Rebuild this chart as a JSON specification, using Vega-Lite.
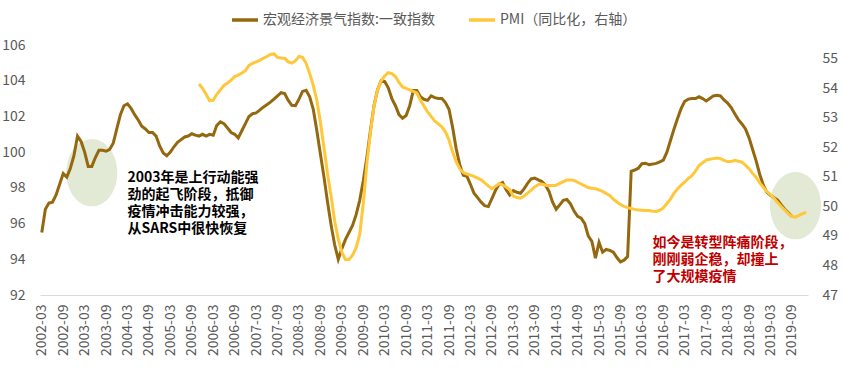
{
  "$schema": "https://vega.github.io/schema/vega-lite/v6.json",
  "width": 768,
  "height": 250,
  "autosize": {"type": "none"},
  "padding": {"left": 40, "top": 45, "right": 35, "bottom": 75},
  "background": "white",
  "config": {
    "font": "Noto Sans CJK SC",
    "view": {"stroke": null},
    "axis": {"labelColor": "#595959", "labelFontSize": 14, "ticks": false, "grid": false, "title": null}
  },
  "datasets": {
    "ci": [
      {"d":"2002-03","v":95.5},{"d":"2002-04","v":96.8},{"d":"2002-05","v":97.15},{"d":"2002-06","v":97.2},{"d":"2002-07","v":97.6},{"d":"2002-08","v":98.2},{"d":"2002-09","v":98.8},{"d":"2002-10","v":98.6},{"d":"2002-11","v":99.1},{"d":"2002-12","v":99.8},
      {"d":"2003-01","v":100.9},{"d":"2003-02","v":100.6},{"d":"2003-03","v":100.0},{"d":"2003-04","v":99.2},{"d":"2003-05","v":99.2},{"d":"2003-06","v":99.7},{"d":"2003-07","v":100.1},{"d":"2003-08","v":100.1},{"d":"2003-09","v":100.05},{"d":"2003-10","v":100.15},{"d":"2003-11","v":100.5},{"d":"2003-12","v":101.3},
      {"d":"2004-01","v":102.1},{"d":"2004-02","v":102.6},{"d":"2004-03","v":102.7},{"d":"2004-04","v":102.45},{"d":"2004-05","v":102.1},{"d":"2004-06","v":101.8},{"d":"2004-07","v":101.45},{"d":"2004-08","v":101.3},{"d":"2004-09","v":101.1},{"d":"2004-10","v":101.1},{"d":"2004-11","v":100.9},{"d":"2004-12","v":100.35},
      {"d":"2005-01","v":99.95},{"d":"2005-02","v":99.8},{"d":"2005-03","v":100.0},{"d":"2005-04","v":100.3},{"d":"2005-05","v":100.55},{"d":"2005-06","v":100.7},{"d":"2005-07","v":100.85},{"d":"2005-08","v":100.9},{"d":"2005-09","v":101.03},{"d":"2005-10","v":100.95},{"d":"2005-11","v":100.9},{"d":"2005-12","v":101.0},
      {"d":"2006-01","v":100.9},{"d":"2006-02","v":101.0},{"d":"2006-03","v":100.95},{"d":"2006-04","v":101.5},{"d":"2006-05","v":101.7},{"d":"2006-06","v":101.6},{"d":"2006-07","v":101.35},{"d":"2006-08","v":101.1},{"d":"2006-09","v":101.0},{"d":"2006-10","v":100.8},{"d":"2006-11","v":101.2},{"d":"2006-12","v":101.6},
      {"d":"2007-01","v":102.0},{"d":"2007-02","v":102.15},{"d":"2007-03","v":102.2},{"d":"2007-04","v":102.35},{"d":"2007-05","v":102.52},{"d":"2007-06","v":102.65},{"d":"2007-07","v":102.8},{"d":"2007-08","v":102.97},{"d":"2007-09","v":103.15},{"d":"2007-10","v":103.33},{"d":"2007-11","v":103.28},{"d":"2007-12","v":102.9},
      {"d":"2008-01","v":102.62},{"d":"2008-02","v":102.6},{"d":"2008-03","v":102.97},{"d":"2008-04","v":103.4},{"d":"2008-05","v":103.46},{"d":"2008-06","v":103.1},{"d":"2008-07","v":102.4},{"d":"2008-08","v":101.2},{"d":"2008-09","v":99.9},{"d":"2008-10","v":98.6},{"d":"2008-11","v":97.2},{"d":"2008-12","v":95.9},
      {"d":"2009-01","v":94.8},{"d":"2009-02","v":94.0},{"d":"2009-03","v":94.6},{"d":"2009-04","v":95.1},{"d":"2009-05","v":95.5},{"d":"2009-06","v":95.9},{"d":"2009-07","v":96.5},{"d":"2009-08","v":97.3},{"d":"2009-09","v":98.4},{"d":"2009-10","v":99.7},{"d":"2009-11","v":101.2},{"d":"2009-12","v":102.6},
      {"d":"2010-01","v":103.5},{"d":"2010-02","v":104.0},{"d":"2010-03","v":103.95},{"d":"2010-04","v":103.6},{"d":"2010-05","v":103.0},{"d":"2010-06","v":102.6},{"d":"2010-07","v":102.1},{"d":"2010-08","v":101.9},{"d":"2010-09","v":102.05},{"d":"2010-10","v":102.6},{"d":"2010-11","v":103.45},{"d":"2010-12","v":103.45},
      {"d":"2011-01","v":103.1},{"d":"2011-02","v":102.96},{"d":"2011-03","v":102.9},{"d":"2011-04","v":103.15},{"d":"2011-05","v":103.05},{"d":"2011-06","v":103.0},{"d":"2011-07","v":103.0},{"d":"2011-08","v":102.78},{"d":"2011-09","v":102.4},{"d":"2011-10","v":101.4},{"d":"2011-11","v":100.2},{"d":"2011-12","v":99.3},
      {"d":"2012-01","v":98.7},{"d":"2012-02","v":98.65},{"d":"2012-03","v":98.2},{"d":"2012-04","v":97.7},{"d":"2012-05","v":97.45},{"d":"2012-06","v":97.2},{"d":"2012-07","v":97.0},{"d":"2012-08","v":96.95},{"d":"2012-09","v":97.4},{"d":"2012-10","v":97.85},{"d":"2012-11","v":98.2},{"d":"2012-12","v":98.3},
      {"d":"2013-01","v":97.9},{"d":"2013-02","v":97.6},{"d":"2013-03","v":97.85},{"d":"2013-04","v":97.75},{"d":"2013-05","v":97.7},{"d":"2013-06","v":97.94},{"d":"2013-07","v":98.25},{"d":"2013-08","v":98.5},{"d":"2013-09","v":98.55},{"d":"2013-10","v":98.45},{"d":"2013-11","v":98.35},{"d":"2013-12","v":98.15},
      {"d":"2014-01","v":97.8},{"d":"2014-02","v":97.2},{"d":"2014-03","v":96.8},{"d":"2014-04","v":97.05},{"d":"2014-05","v":97.3},{"d":"2014-06","v":97.35},{"d":"2014-07","v":97.1},{"d":"2014-08","v":96.7},{"d":"2014-09","v":96.4},{"d":"2014-10","v":96.3},{"d":"2014-11","v":96.0},{"d":"2014-12","v":95.3},
      {"d":"2015-01","v":95.0},{"d":"2015-02","v":94.06},{"d":"2015-03","v":94.95},{"d":"2015-04","v":94.4},{"d":"2015-05","v":94.55},{"d":"2015-06","v":94.5},{"d":"2015-07","v":94.4},{"d":"2015-08","v":94.1},{"d":"2015-09","v":93.85},{"d":"2015-10","v":93.95},{"d":"2015-11","v":94.15},{"d":"2015-12","v":98.93},
      {"d":"2016-01","v":99.0},{"d":"2016-02","v":99.1},{"d":"2016-03","v":99.35},{"d":"2016-04","v":99.38},{"d":"2016-05","v":99.3},{"d":"2016-06","v":99.33},{"d":"2016-07","v":99.37},{"d":"2016-08","v":99.45},{"d":"2016-09","v":99.55},{"d":"2016-10","v":100.0},{"d":"2016-11","v":100.65},{"d":"2016-12","v":101.3},
      {"d":"2017-01","v":101.9},{"d":"2017-02","v":102.45},{"d":"2017-03","v":102.85},{"d":"2017-04","v":102.97},{"d":"2017-05","v":103.0},{"d":"2017-06","v":103.0},{"d":"2017-07","v":103.1},{"d":"2017-08","v":103.0},{"d":"2017-09","v":102.87},{"d":"2017-10","v":103.0},{"d":"2017-11","v":103.15},{"d":"2017-12","v":103.18},
      {"d":"2018-01","v":103.15},{"d":"2018-02","v":102.92},{"d":"2018-03","v":102.75},{"d":"2018-04","v":102.5},{"d":"2018-05","v":102.15},{"d":"2018-06","v":101.82},{"d":"2018-07","v":101.58},{"d":"2018-08","v":101.3},{"d":"2018-09","v":100.8},{"d":"2018-10","v":100.15},{"d":"2018-11","v":99.5},{"d":"2018-12","v":98.75},
      {"d":"2019-01","v":98.15},{"d":"2019-02","v":97.75},{"d":"2019-03","v":97.58},{"d":"2019-04","v":97.45},{"d":"2019-05","v":97.32},{"d":"2019-06","v":97.05},{"d":"2019-07","v":96.8},{"d":"2019-08","v":96.6},{"d":"2019-09","v":96.4}
    ],
    "pmi": [
      {"d":"2005-11","v":54.15},{"d":"2005-12","v":54.0},
      {"d":"2006-01","v":53.8},{"d":"2006-02","v":53.58},{"d":"2006-03","v":53.6},{"d":"2006-04","v":53.8},{"d":"2006-05","v":53.95},{"d":"2006-06","v":54.1},{"d":"2006-07","v":54.18},{"d":"2006-08","v":54.28},{"d":"2006-09","v":54.4},{"d":"2006-10","v":54.45},{"d":"2006-11","v":54.52},{"d":"2006-12","v":54.6},
      {"d":"2007-01","v":54.78},{"d":"2007-02","v":54.85},{"d":"2007-03","v":54.9},{"d":"2007-04","v":54.95},{"d":"2007-05","v":55.02},{"d":"2007-06","v":55.08},{"d":"2007-07","v":55.15},{"d":"2007-08","v":55.17},{"d":"2007-09","v":55.05},{"d":"2007-10","v":55.03},{"d":"2007-11","v":55.02},{"d":"2007-12","v":54.9},
      {"d":"2008-01","v":54.86},{"d":"2008-02","v":54.93},{"d":"2008-03","v":55.08},{"d":"2008-04","v":55.05},{"d":"2008-05","v":54.85},{"d":"2008-06","v":54.5},{"d":"2008-07","v":54.1},{"d":"2008-08","v":53.6},{"d":"2008-09","v":52.85},{"d":"2008-10","v":52.0},{"d":"2008-11","v":51.1},{"d":"2008-12","v":50.35},
      {"d":"2009-01","v":49.5},{"d":"2009-02","v":48.9},{"d":"2009-03","v":48.45},{"d":"2009-04","v":48.2},{"d":"2009-05","v":48.2},{"d":"2009-06","v":48.35},{"d":"2009-07","v":48.6},{"d":"2009-08","v":49.05},{"d":"2009-09","v":50.1},{"d":"2009-10","v":51.45},{"d":"2009-11","v":52.5},{"d":"2009-12","v":53.4},
      {"d":"2010-01","v":53.95},{"d":"2010-02","v":54.25},{"d":"2010-03","v":54.42},{"d":"2010-04","v":54.53},{"d":"2010-05","v":54.5},{"d":"2010-06","v":54.4},{"d":"2010-07","v":54.2},{"d":"2010-08","v":54.05},{"d":"2010-09","v":54.0},{"d":"2010-10","v":53.95},{"d":"2010-11","v":53.9},{"d":"2010-12","v":53.85},
      {"d":"2011-01","v":53.6},{"d":"2011-02","v":53.4},{"d":"2011-03","v":53.2},{"d":"2011-04","v":53.05},{"d":"2011-05","v":52.9},{"d":"2011-06","v":52.8},{"d":"2011-07","v":52.7},{"d":"2011-08","v":52.53},{"d":"2011-09","v":52.25},{"d":"2011-10","v":51.85},{"d":"2011-11","v":51.52},{"d":"2011-12","v":51.28},
      {"d":"2012-01","v":51.15},{"d":"2012-02","v":51.1},{"d":"2012-03","v":51.06},{"d":"2012-04","v":51.02},{"d":"2012-05","v":50.96},{"d":"2012-06","v":50.9},{"d":"2012-07","v":50.8},{"d":"2012-08","v":50.7},{"d":"2012-09","v":50.6},{"d":"2012-10","v":50.68},{"d":"2012-11","v":50.77},{"d":"2012-12","v":50.73},
      {"d":"2013-01","v":50.66},{"d":"2013-02","v":50.57},{"d":"2013-03","v":50.35},{"d":"2013-04","v":50.3},{"d":"2013-05","v":50.28},{"d":"2013-06","v":50.35},{"d":"2013-07","v":50.45},{"d":"2013-08","v":50.55},{"d":"2013-09","v":50.66},{"d":"2013-10","v":50.74},{"d":"2013-11","v":50.76},{"d":"2013-12","v":50.72},
      {"d":"2014-01","v":50.71},{"d":"2014-02","v":50.71},{"d":"2014-03","v":50.72},{"d":"2014-04","v":50.78},{"d":"2014-05","v":50.84},{"d":"2014-06","v":50.9},{"d":"2014-07","v":50.9},{"d":"2014-08","v":50.88},{"d":"2014-09","v":50.82},{"d":"2014-10","v":50.76},{"d":"2014-11","v":50.7},{"d":"2014-12","v":50.64},
      {"d":"2015-01","v":50.62},{"d":"2015-02","v":50.6},{"d":"2015-03","v":50.56},{"d":"2015-04","v":50.51},{"d":"2015-05","v":50.44},{"d":"2015-06","v":50.37},{"d":"2015-07","v":50.25},{"d":"2015-08","v":50.15},{"d":"2015-09","v":50.07},{"d":"2015-10","v":50.0},{"d":"2015-11","v":49.96},{"d":"2015-12","v":49.93},
      {"d":"2016-01","v":49.9},{"d":"2016-02","v":49.88},{"d":"2016-03","v":49.87},{"d":"2016-04","v":49.86},{"d":"2016-05","v":49.86},{"d":"2016-06","v":49.84},{"d":"2016-07","v":49.83},{"d":"2016-08","v":49.87},{"d":"2016-09","v":49.95},{"d":"2016-10","v":50.1},{"d":"2016-11","v":50.25},{"d":"2016-12","v":50.45},
      {"d":"2017-01","v":50.6},{"d":"2017-02","v":50.72},{"d":"2017-03","v":50.83},{"d":"2017-04","v":50.95},{"d":"2017-05","v":51.04},{"d":"2017-06","v":51.2},{"d":"2017-07","v":51.39},{"d":"2017-08","v":51.48},{"d":"2017-09","v":51.57},{"d":"2017-10","v":51.6},{"d":"2017-11","v":51.62},{"d":"2017-12","v":51.64},
      {"d":"2018-01","v":51.62},{"d":"2018-02","v":51.56},{"d":"2018-03","v":51.52},{"d":"2018-04","v":51.52},{"d":"2018-05","v":51.56},{"d":"2018-06","v":51.53},{"d":"2018-07","v":51.5},{"d":"2018-08","v":51.4},{"d":"2018-09","v":51.28},{"d":"2018-10","v":51.12},{"d":"2018-11","v":50.98},{"d":"2018-12","v":50.8},
      {"d":"2019-01","v":50.65},{"d":"2019-02","v":50.5},{"d":"2019-03","v":50.4},{"d":"2019-04","v":50.28},{"d":"2019-05","v":50.13},{"d":"2019-06","v":50.0},{"d":"2019-07","v":49.88},{"d":"2019-08","v":49.76},{"d":"2019-09","v":49.66},{"d":"2019-10","v":49.64},{"d":"2019-11","v":49.7},{"d":"2019-12","v":49.76},
      {"d":"2020-01","v":49.8}
    ],
    "marks": [
      {"d":"2003-05","v":98.85},{"d":"2019-10","v":97.0}
    ],
    "notes": [
      {"d":"2004-03","v":98.94,"t":"2003年是上行动能强\n劲的起飞阶段，抵御\n疫情冲击能力较强，\n从SARS中很快恢复","c":"black"},
      {"d":"2016-06","v":95.3,"t":"如今是转型阵痛阶段，\n刚刚弱企稳，却撞上\n了大规模疫情","c":"red"}
    ]
  },
  "encoding": {
    "x": {
      "field": "d",
      "type": "ordinal",
      "sort": "ascending",
      "scale": {"type": "point", "padding": 0.5},
      "axis": {
        "values": ["2002-03","2002-09","2003-03","2003-09","2004-03","2004-09","2005-03","2005-09","2006-03","2006-09","2007-03","2007-09","2008-03","2008-09","2009-03","2009-09","2010-03","2010-09","2011-03","2011-09","2012-03","2012-09","2013-03","2013-09","2014-03","2014-09","2015-03","2015-09","2016-03","2016-09","2017-03","2017-09","2018-03","2018-09","2019-03","2019-09"],
        "labelAngle": -90,
        "labelPadding": 9,
        "domainColor": "#D9D9D9",
        "domainWidth": 1,
        "labelFontSize": 14
      }
    }
  },
  "layer": [
    {
      "encoding": {
        "y": {
          "field": "v",
          "type": "quantitative",
          "scale": {"domain": [92, 106], "nice": false, "zero": false},
          "axis": {"orient": "left", "values": [92,94,96,98,100,102,104,106], "domain": false, "labelPadding": 15}
        }
      },
      "layer": [
        {
          "data": {"name": "marks"},
          "mark": {"type": "point", "shape": "M0,-1.32C0.5523,-1.32 1,-0.729 1,0C1,0.729 0.5523,1.32 0,1.32C-0.5523,1.32 -1,0.729 -1,0C-1,-0.729 -0.5523,-1.32 0,-1.32Z", "size": 2601, "filled": true, "fill": "#E2EAD5", "opacity": 1, "strokeWidth": 0}
        },
        {
          "data": {"name": "ci"},
          "mark": {"type": "line", "strokeWidth": 3},
          "encoding": {
            "color": {
              "datum": "宏观经济景气指数:一致指数",
              "type": "nominal",
              "scale": {"domain": ["宏观经济景气指数:一致指数", "PMI（同比化，右轴）"], "range": ["#94680E", "#FFC73A"]},
              "legend": {
                "orient": "none",
                "legendX": 190,
                "legendY": -40,
                "direction": "horizontal",
                "title": null,
                "symbolType": "stroke",
                "symbolSize": 676,
                "symbolStrokeWidth": 3.5,
                "labelFontSize": 14,
                "labelColor": "#595959",
                "labelOffset": 3,
                "columnPadding": 27,
                "labelLimit": 400
              }
            }
          }
        },
        {
          "data": {"name": "notes"},
          "mark": {"type": "text", "align": "left", "baseline": "top", "fontSize": 14, "fontWeight": "bold", "lineBreak": "\n", "lineHeight": 17},
          "encoding": {
            "text": {"field": "t"},
            "fill": {"field": "c", "type": "nominal", "scale": {"domain": ["black", "red"], "range": ["#000000", "#C00000"]}, "legend": null}
          }
        }
      ]
    },
    {
      "data": {"name": "pmi"},
      "mark": {"type": "line", "strokeWidth": 3},
      "encoding": {
        "y": {
          "field": "v",
          "type": "quantitative",
          "scale": {"domain": [47, 55.47], "nice": false, "zero": false},
          "axis": {"orient": "right", "values": [47,48,49,50,51,52,53,54,55], "domain": false, "labelPadding": 14}
        },
        "color": {"datum": "PMI（同比化，右轴）", "type": "nominal"}
      }
    }
  ],
  "resolve": {"scale": {"y": "independent"}, "axis": {"y": "independent"}}
}
